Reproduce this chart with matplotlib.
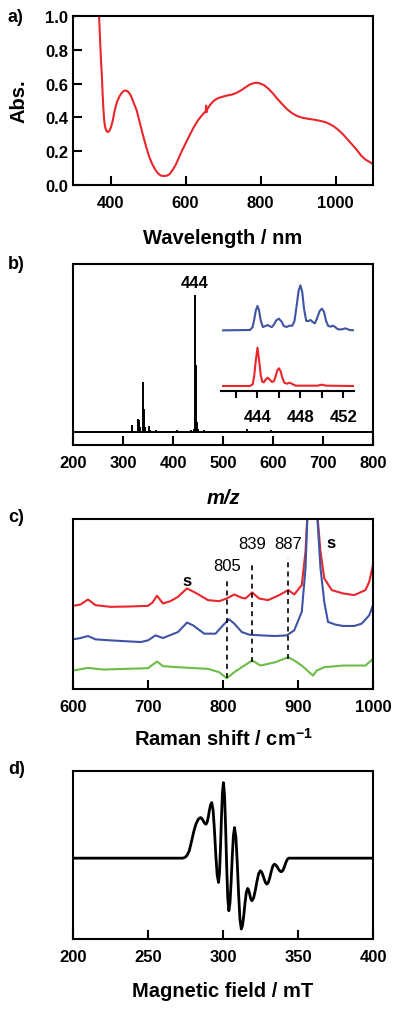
#!/usr/bin/env python3
"""Four-panel characterisation figure: UV-vis, ESI-MS, Raman, EPR."""
import matplotlib
matplotlib.use("Agg")
import matplotlib.pyplot as plt

plt.rcParams["font.family"] = ["Liberation Sans", "DejaVu Sans"]
plt.rcParams["font.weight"] = "bold"
plt.rcParams["mathtext.fontset"] = "custom"
plt.rcParams["mathtext.rm"] = "Liberation Sans:bold"
plt.rcParams["mathtext.bf"] = "Liberation Sans:bold"
plt.rcParams["axes.linewidth"] = 1.5

# ---- a) UV-vis ----
UV_WL = [368, 369.5, 371, 373, 375, 377, 379, 381, 383, 385, 388, 391, 394, 397,
         401, 406, 411, 417, 424, 431, 437, 443, 449, 455, 462, 470, 478, 486,
         494, 502, 510, 518, 526, 534, 542, 550, 558, 566, 574, 582, 590, 600,
         610, 622, 634, 646, 654, 655, 656, 657, 666, 676, 688, 700, 712, 724,
         736, 748, 760, 772, 784, 792, 800, 810, 820, 832, 845, 858, 870, 884,
         898, 912, 926, 942, 958, 973, 985, 996, 1008, 1020, 1032, 1044, 1056,
         1068, 1080, 1092, 1100]
UV_ABS = [1.05, 1.0, 0.92, 0.82, 0.72, 0.645, 0.54, 0.45, 0.39, 0.35, 0.325,
          0.315, 0.314, 0.32, 0.34, 0.38, 0.44, 0.49, 0.525, 0.548, 0.558, 0.558,
          0.548, 0.525, 0.485, 0.44, 0.37, 0.30, 0.235, 0.175, 0.13, 0.095, 0.07,
          0.056, 0.053, 0.055, 0.065, 0.09, 0.12, 0.16, 0.20, 0.245, 0.29, 0.342,
          0.385, 0.418, 0.437, 0.47, 0.43, 0.445, 0.475, 0.50, 0.515, 0.523,
          0.53, 0.535, 0.545, 0.56, 0.578, 0.595, 0.604, 0.605, 0.60, 0.59,
          0.572, 0.545, 0.51, 0.478, 0.45, 0.425, 0.408, 0.398, 0.392, 0.387,
          0.38, 0.372, 0.36, 0.346, 0.325, 0.30, 0.27, 0.24, 0.21, 0.175, 0.15,
          0.135, 0.125]

# ---- b) ESI-MS, stick spectrum ----
MS_MZ = [293, 318, 329, 331, 333, 339, 341, 343, 352, 354, 366, 380, 407, 410,
         428, 435, 442, 444, 446, 447, 448, 450, 462, 480, 520, 532, 548, 550,
         562, 595, 640, 705]
MS_INT = [4, 20, 40, 35, 15, 150, 70, 15, 18, 6, 6, 3, 6, 4, 4, 6, 8, 411, 200,
          30, 15, 8, 5, 3, 3, 3, 8, 4, 3, 7, 2, 2]

# inset: isotope patterns (red = observed, blue = second trace)
ISO_RED_MZ = [440.8, 443.3, 443.55, 443.7, 443.82, 444, 444.18, 444.3, 444.45,
              444.6, 444.75, 444.95, 445.15, 445.35, 445.55, 445.7, 445.85, 446,
              446.15, 446.3, 446.5, 446.75, 447, 447.25, 447.55, 449.6, 450,
              450.4, 453]
ISO_RED = [15, 15, 20, 45, 85, 130, 85, 48, 28, 26, 34, 40, 34, 27, 30, 45, 62,
           68, 60, 42, 25, 22, 25, 21, 16, 16, 19, 16, 15]
ISO_BLUE_MZ = [440.8, 443.3, 443.55, 443.7, 443.85, 444, 444.15, 444.3, 444.5,
               444.75, 444.95, 445.15, 445.35, 445.55, 445.75, 446, 446.25,
               446.45, 446.7, 447, 447.25, 447.45, 447.65, 447.83, 448, 448.17,
               448.35, 448.55, 448.75, 448.95, 449.15, 449.35, 449.55, 449.8, 450,
               450.2, 450.4, 450.6, 450.85, 451, 451.2, 451.5, 451.9, 452.2,
               452.6, 453]
ISO_BLUE = [182, 183, 192, 215, 242, 255, 242, 212, 192, 195, 198, 194, 192, 200,
            212, 217, 208, 195, 192, 196, 196, 210, 255, 300, 317, 298, 245, 210,
            210, 213, 207, 203, 218, 240, 247, 238, 210, 195, 193, 196, 193, 185,
            185, 188, 183, 182]

# ---- c) Raman (offset traces, arbitrary units) ----
RAMAN_RED_X = [600, 610, 620, 630, 650, 675, 700, 706, 712, 720, 730, 740, 752,
               765, 780, 795, 805, 815, 825, 830, 839, 848, 860, 875, 887, 895,
               905, 910, 913, 925, 930, 935, 945, 960, 975, 990, 995, 1000]
RAMAN_RED = [248, 252, 267, 250, 245, 246, 248, 258, 278, 255, 262, 275, 300,
             285, 265, 262, 270, 282, 272, 270, 288, 270, 265, 280, 295, 282,
             310, 410, 540, 540, 410, 330, 295, 285, 280, 295, 320, 370]
RAMAN_BLUE_X = [600, 610, 620, 630, 650, 690, 700, 710, 720, 740, 752, 760, 775,
                790, 800, 808, 815, 825, 835, 850, 870, 885, 895, 905, 910, 913,
                925, 930, 935, 940, 950, 960, 975, 985, 995, 1000]
RAMAN_BLUE = [148, 152, 158, 148, 145, 140, 145, 160, 152, 170, 198, 190, 165,
              165, 190, 208, 195, 170, 162, 160, 158, 160, 175, 230, 360, 540,
              540, 360, 260, 200, 192, 188, 188, 195, 220, 250]
RAMAN_GREEN_X = [600, 620, 640, 670, 700, 712, 720, 740, 780, 795, 805, 815,
                 825, 839, 850, 870, 887, 895, 905, 915, 920, 925, 935, 960, 990,
                 1000]
RAMAN_GREEN = [55, 63, 58, 60, 62, 82, 68, 65, 60, 50, 32, 50, 65, 85, 70, 80,
               95, 85, 70, 50, 40, 55, 65, 70, 70, 90]
# dashed markers: (position, top of line, bottom of line)
RAMAN_MARK_X = [805, 839, 887]
RAMAN_MARK_TOP = [332, 378, 390]
RAMAN_MARK_BOT = [32, 80, 90]
RAMAN_LABELS = ["805", "839", "887"]
RAMAN_LABEL_Y = [367, 435, 435]
SOLVENT_X = [752, 944]
SOLVENT_Y = [325, 438]

# ---- d) EPR ----
EPR_B = [200, 273, 274.5, 276, 277.5, 279, 280.5, 282, 283.5, 285,
         285.74, 286.48, 287.22, 287.96, 288.7,
         289.46, 290.22, 290.98, 291.74, 292.5,
         293.4, 294.3, 295.2, 296.1, 297.0,
         297.66, 298.32, 298.98, 299.64, 300.3,
         301.02, 301.74, 302.46, 303.18, 303.9,
         304.66, 305.42, 306.18, 306.94, 307.7,
         308.6, 309.5, 310.4, 311.3, 312.2,
         313.04, 313.88, 314.72, 315.56, 316.4,
         316.98, 317.56, 318.14, 318.72, 319.3,
         320.42, 321.54, 322.66, 323.78, 324.9,
         325.78, 326.66, 327.54, 328.42, 329.3,
         330.28, 331.26, 332.24, 333.22, 334.2,
         335.14, 336.08, 337.02, 337.96, 338.9,
         339.88, 340.86, 341.84, 342.82, 343.8, 400]
EPR_SIG = [0, 0, 2, 8, 22, 50, 80, 103, 117, 122,
           120.1, 115.1, 108.9, 103.9, 102,
           108.2, 124.4, 144.6, 160.8, 167,
           144.2, 84.2, 9.8, -50.2, -73,
           -44.5, 30.5, 123.5, 198.5, 227,
           190.4, 94.2, -25.2, -121.4, -158,
           -134.3, -71.8, 5.8, 68.3, 92,
           63.0, -13.2, -107.8, -184.0, -213,
           -201.4, -170.9, -133.1, -102.6, -91,
           -94.5, -103.8, -115.2, -124.5, -128,
           -119.5, -96.9, -69.1, -46.6, -38,
           -41.8, -51.8, -64.2, -74.2, -78,
           -72.3, -57.3, -38.7, -23.7, -18,
           -20.2, -25.9, -33.1, -38.8, -41,
           -37.1, -26.9, -14.1, -3.9, 0, 0]

RED = "#e8262b"
BLUE = "#3f54a5"
GREEN = "#6cbd45"
TICK_FS = 12
LABEL_FS = 14.5


def style(ax):
    ax.tick_params(direction="in", length=6.5, width=1.5, labelsize=TICK_FS)
    ax.tick_params(axis="x", pad=7.5)
    ax.tick_params(axis="y", pad=3.5)
    for lab in ax.get_xticklabels() + ax.get_yticklabels():
        lab.set_fontweight("bold")


def main():
    fig = plt.figure(figsize=(4.0, 10.12), dpi=100)
    W, H = 400.0, 1012.0

    def box(top, bottom, left=73, right=373):
        return [left / W, 1 - bottom / H, (right - left) / W, (bottom - top) / H]

    # a) UV-vis
    ax = fig.add_axes(box(17, 186))
    ax.plot(UV_WL, UV_ABS, color=RED, lw=1.5)
    ax.set_xlim(300, 1100)
    ax.set_ylim(0, 1.0)
    ax.set_xticks([400, 600, 800, 1000])
    ax.set_yticks([0.0, 0.2, 0.4, 0.6, 0.8, 1.0])
    ax.set_yticklabels(["0.0", "0.2", "0.4", "0.6", "0.8", "1.0"])
    style(ax)
    ax.set_xlabel("Wavelength / nm", fontsize=LABEL_FS, fontweight="bold",
                  labelpad=13)
    ax.set_ylabel("Abs.", fontsize=LABEL_FS, fontweight="bold", labelpad=12)

    # b) MS
    ax = fig.add_axes(box(265, 446))
    ax.vlines(MS_MZ, 0, MS_INT, color="black", lw=1.4)
    ax.hlines(0, 200, 800, color="black", lw=1.4)
    ax.set_xlim(200, 800)
    ax.set_ylim(-39, 503)
    ax.set_yticks([])
    ax.set_xticks([200, 300, 400, 500, 600, 700, 800])
    style(ax)
    ax.text(444, 425, "444", ha="center", va="bottom", fontsize=12,
            fontweight="bold")
    ax.set_xlabel("m/z", fontsize=LABEL_FS, fontweight="bold", style="italic",
                  labelpad=13)

    ins = fig.add_axes(box(280, 392, left=221, right=354))
    ins.plot(ISO_BLUE_MZ, ISO_BLUE, color=BLUE, lw=1.5)
    ins.plot(ISO_RED_MZ, ISO_RED, color=RED, lw=1.5)
    ins.set_xlim(440.6, 453)
    ins.set_ylim(0, 336)
    ins.patch.set_alpha(0)
    for s in ("top", "left", "right"):
        ins.spines[s].set_visible(False)
    ins.set_yticks([])
    ins.set_xticks([444, 448, 452])
    ins.set_xticks([442, 446, 450], minor=True)
    ins.tick_params(which="both", direction="out", length=5, width=1.5,
                    labelsize=TICK_FS, pad=8)
    for lab in ins.get_xticklabels():
        lab.set_fontweight("bold")

    # c) Raman
    ax = fig.add_axes(box(520, 690))
    ax.plot(RAMAN_RED_X, RAMAN_RED, color=RED, lw=1.5)
    ax.plot(RAMAN_BLUE_X, RAMAN_BLUE, color=BLUE, lw=1.5)
    ax.plot(RAMAN_GREEN_X, RAMAN_GREEN, color=GREEN, lw=1.5)
    ax.vlines(RAMAN_MARK_X, RAMAN_MARK_BOT, RAMAN_MARK_TOP, color="black",
              lw=1.2, linestyles=(0, (3, 2.5)))
    for x, y, t in zip(RAMAN_MARK_X, RAMAN_LABEL_Y, RAMAN_LABELS):
        ax.text(x, y, t, ha="center", va="center", fontsize=12,
                fontweight="normal")
    for x, y in zip(SOLVENT_X, SOLVENT_Y):
        ax.text(x, y, "s", ha="center", va="center", fontsize=12,
                fontweight="bold")
    ax.set_xlim(600, 1000)
    ax.set_ylim(0, 507)
    ax.set_yticks([])
    ax.set_xticks([600, 700, 800, 900, 1000])
    style(ax)
    ax.set_xlabel(r"Raman shift / cm$^{-1}$", fontsize=LABEL_FS,
                  fontweight="bold", labelpad=9)

    # d) EPR
    ax = fig.add_axes(box(772, 940))
    ax.plot(EPR_B, EPR_SIG, color="black", lw=2.0)
    ax.set_xlim(200, 400)
    ax.set_ylim(-243, 262)
    ax.set_yticks([])
    ax.set_xticks([200, 250, 300, 350, 400])
    style(ax)
    ax.set_xlabel("Magnetic field / mT", fontsize=LABEL_FS, fontweight="bold",
                  labelpad=12)

    for t, y in (("a)", 18), ("b)", 265), ("c)", 517), ("d)", 769)):
        fig.text(8 / W, 1 - y / H, t, fontsize=13, fontweight="bold",
                 va="center", ha="left")

    fig.savefig("out.png", dpi=100)
    plt.close(fig)


if __name__ == "__main__":
    main()
